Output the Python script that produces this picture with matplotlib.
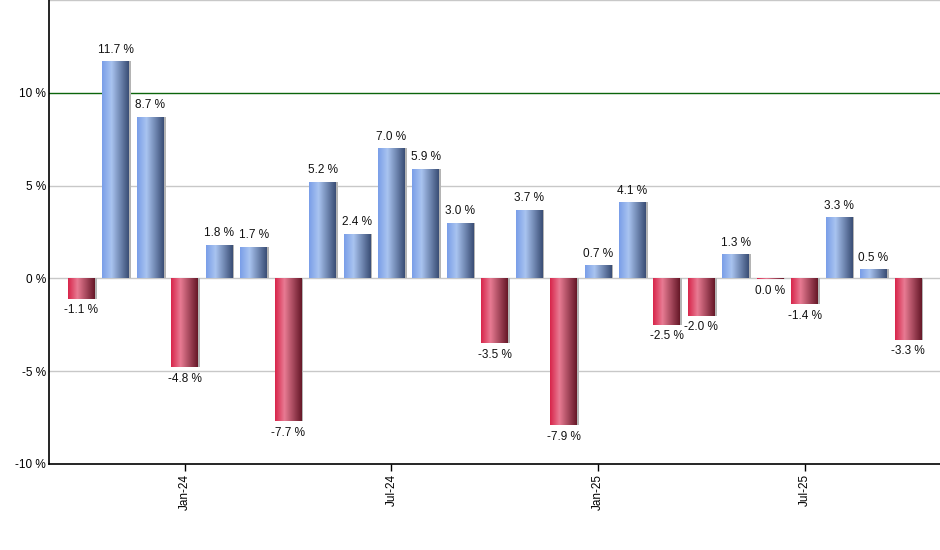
import numpy as np
import matplotlib
matplotlib.use("Agg")
import matplotlib.pyplot as plt
from matplotlib.colors import LinearSegmentedColormap

plt.rcParams['font.family'] = ['Liberation Sans', 'DejaVu Sans']

# --- Data: monthly returns Oct-23 .. Oct-25 ---
months = ["Oct-23", "Nov-23", "Dec-23", "Jan-24", "Feb-24", "Mar-24", "Apr-24",
          "May-24", "Jun-24", "Jul-24", "Aug-24", "Sep-24", "Oct-24", "Nov-24",
          "Dec-24", "Jan-25", "Feb-25", "Mar-25", "Apr-25", "May-25", "Jun-25",
          "Jul-25", "Aug-25", "Sep-25", "Oct-25"]
returns = [-1.1, 11.7, 8.7, -4.8, 1.8, 1.7, -7.7, 5.2, 2.4, 7.0, 5.9, 3.0, -3.5,
           3.7, -7.9, 0.7, 4.1, -2.5, -2.0, 1.3, -0.04, -1.4, 3.3, 0.5, -3.3]
tick_months = ["Jan-24", "Jul-24", "Jan-25", "Jul-25"]
y_ticks = [-10, -5, 0, 5, 10, 15]

blue_cmap = LinearSegmentedColormap.from_list(
    "blue_bar", [(0, "#7a9ee8"), (0.35, "#a9c4f0"), (1, "#3a4e76")])
red_cmap = LinearSegmentedColormap.from_list(
    "red_bar", [(0, "#d8264b"), (0.35, "#e87b93"), (1, "#661828")])

fig = plt.figure(figsize=(9.4, 5.5), dpi=100)
ax = fig.add_axes([49 / 940, 1 - 464 / 550, 891 / 940, 464 / 550])

x = np.arange(len(months))
width = 0.78

# horizontal gradient strip
grad = np.linspace(0, 1, 64).reshape(1, -1)

for xi, v in zip(x, returns):
    cmap = blue_cmap if v >= 0 else red_cmap
    # soft shadow to the right
    ax.bar(xi + 0.05, v, width=width, color="#b4b4b4", zorder=2, linewidth=0)
    bar = ax.bar(xi, v, width=width, color="none", linewidth=0, zorder=3)[0]
    im = ax.imshow(grad, cmap=cmap, aspect="auto", zorder=3,
                   extent=[xi - width / 2, xi + width / 2, min(0, v), max(0, v)])
    im.set_clip_path(bar)

    label = f"{abs(v):.1f} %" if abs(v) < 0.05 else f"{v:.1f} %"
    if v >= 0:
        ax.annotate(label, (xi, v), xytext=(0, 4), textcoords="offset points",
                    ha="center", va="bottom", fontsize=8.5, color="#111111")
    else:
        ax.annotate(label, (xi, v), xytext=(0, -4), textcoords="offset points",
                    ha="center", va="top", fontsize=8.5, color="#111111")

ax.set_xlim(-0.943, 24.93)
ax.set_ylim(-10, 15)

# grid lines
for yv in y_ticks:
    if yv == 10:
        ax.axhline(yv, color="#0b650b", linewidth=1.0, zorder=1)
    elif yv != -10:
        ax.axhline(yv, color="#c8c8c8", linewidth=1.0, zorder=1)

ax.set_yticks(y_ticks[:-1])
ax.set_yticklabels([f"{t} %" for t in y_ticks[:-1]], fontsize=8.5)
ax.tick_params(axis="y", length=0, pad=2)

ax.set_xticks([months.index(m) for m in tick_months])
ax.set_xticklabels(tick_months, rotation=90, fontsize=8.5)
ax.tick_params(axis="x", length=5, width=1, color="black", pad=2)

for side in ["top", "right"]:
    ax.spines[side].set_visible(False)
for side in ["left", "bottom"]:
    ax.spines[side].set_color("black")
    ax.spines[side].set_linewidth(1.2)

fig.savefig("out.png", dpi=100)
